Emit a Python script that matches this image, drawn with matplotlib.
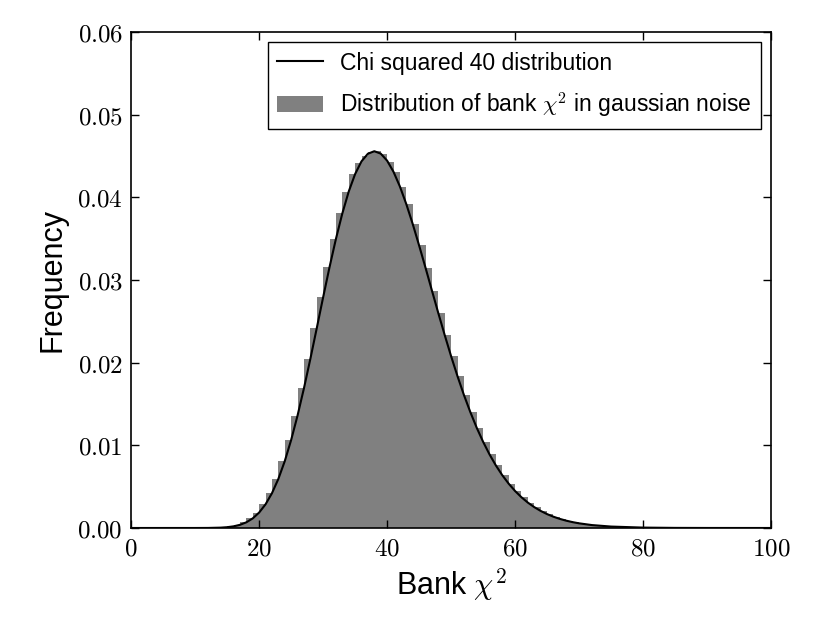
import matplotlib
matplotlib.use('Agg')
import matplotlib.pyplot as plt
from matplotlib.ticker import FuncFormatter

plt.rcParams['mathtext.fontset'] = 'cm'
plt.rcParams['font.family'] = ['Liberation Sans', 'DejaVu Sans']

# histogram: left edges of 1-wide bins and bar heights
bin_left = [13, 14, 15, 16, 17, 18, 19, 20, 21, 22, 23, 24, 25, 26, 27, 28, 29,
            30, 31, 32, 33, 34, 35, 36, 37, 38, 39, 40, 41, 42, 43, 44, 45, 46,
            47, 48, 49, 50, 51, 52, 53, 54, 55, 56, 57, 58, 59, 60, 61, 62, 63,
            64, 65, 66, 67, 68, 69, 70, 71, 72, 73, 74, 75, 76, 77, 78, 79]
bin_height = [0.000043, 0.000096, 0.000199, 0.000382, 0.000686, 0.001161,
              0.001868, 0.002862, 0.004201, 0.005926, 0.008073, 0.010636,
              0.01359, 0.01689, 0.02044, 0.02415, 0.0279, 0.03155, 0.03497,
              0.03805, 0.0407, 0.04282, 0.04420, 0.0450, 0.0455, 0.0456,
              0.0452, 0.0443, 0.04309, 0.04131, 0.03918, 0.03678, 0.03418,
              0.03149, 0.02873, 0.026, 0.02334, 0.02078, 0.01836, 0.0161,
              0.01403, 0.01213, 0.01043, 0.008906, 0.007562, 0.006381, 0.00536,
              0.004473, 0.003713, 0.003068, 0.002522, 0.002063, 0.00168,
              0.001362, 0.001099, 0.000883, 0.000707, 0.000564, 0.000447,
              0.000354, 0.000279, 0.00022, 0.000173, 0.000135, 0.000105,
              0.000082, 0.000063]

# chi squared 40 curve
curve_x = [0, 5, 10, 12, 14, 15, 16, 17, 18, 19, 20, 21, 22, 23, 24, 25, 26, 27,
           28, 29, 30, 31, 32, 33, 34, 35, 36, 37, 38, 39, 40, 41, 42, 43, 44,
           45, 46, 47, 48, 49, 50, 51, 52, 53, 54, 55, 56, 57, 58, 59, 60, 61,
           62, 63, 64, 65, 66, 67, 68, 69, 70, 72, 75, 80, 85, 90, 100]
curve_y = [0.0, 0.0, 0.0000005, 0.0000062, 0.0000427, 0.000096, 0.000199,
           0.000382, 0.000686, 0.001161, 0.001868, 0.002862, 0.004201, 0.005926,
           0.008073, 0.010636, 0.01359, 0.01689, 0.02044, 0.02415, 0.0279,
           0.03155, 0.03497, 0.03805, 0.0407, 0.04282, 0.04436, 0.04528, 0.04558,
           0.04529, 0.04444, 0.04309, 0.04131, 0.03918, 0.03678, 0.03418,
           0.03149, 0.02873, 0.026, 0.02334, 0.02078, 0.01836, 0.0161, 0.01403,
           0.01213, 0.01043, 0.008906, 0.007562, 0.006381, 0.00536, 0.004473,
           0.003713, 0.003068, 0.002522, 0.002063, 0.00168, 0.001362, 0.001099,
           0.000883, 0.000707, 0.000564, 0.000354, 0.000173, 0.000048, 0.000012,
           0.000003, 0.0]

fig = plt.figure(figsize=(8.3, 6.23), dpi=100)
ax = fig.add_axes([0.158, 0.1525, 0.771, 0.7961])

ax.bar(bin_left, bin_height, width=1.0, align='edge', color='#808080',
       linewidth=0, label=r'Distribution of bank $\chi^2$ in gaussian noise')
ax.plot(curve_x, curve_y, color='black', linewidth=1.5,
        label='Chi squared 40 distribution')

ax.set_xlim(0, 100)
ax.set_ylim(0, 0.06)
ax.set_xticks([0, 20, 40, 60, 80, 100])
ax.set_yticks([0.0, 0.01, 0.02, 0.03, 0.04, 0.05, 0.06])
ax.xaxis.set_major_formatter(FuncFormatter(lambda v, p: r'$%d$' % v))
ax.yaxis.set_major_formatter(FuncFormatter(lambda v, p: r'$%.2f$' % v))
ax.tick_params(direction='in', length=6, width=1, top=True, right=True,
               labelsize=18, pad=6)
for s in ax.spines.values():
    s.set_linewidth(1.2)

ax.set_xlabel(r'Bank $\chi^2$', fontsize=22, labelpad=4)
ax.set_ylabel('Frequency', fontsize=22, labelpad=7)

leg = ax.legend(loc='upper right', fontsize=16.5, fancybox=False, framealpha=1,
                edgecolor='black', borderaxespad=0.45, handlelength=2.0,
                labelspacing=0.7, handletextpad=0.75, borderpad=0.4)
leg.get_frame().set_linewidth(1.0)

fig.savefig('out.png', dpi=100)
